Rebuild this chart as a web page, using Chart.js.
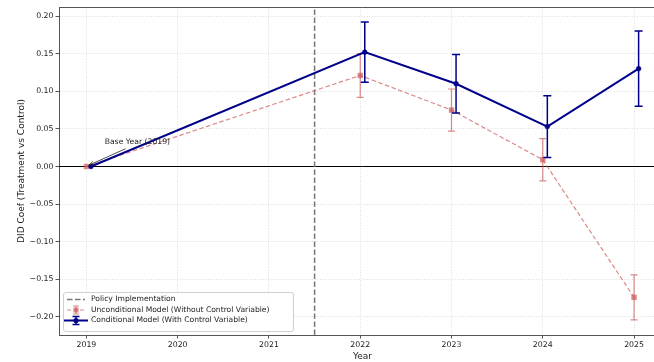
<!DOCTYPE html>
<html>
<head>
<meta charset="utf-8">
<script src="https://cdn.jsdelivr.net/npm/chart.js@4.4.1/dist/chart.umd.min.js"></script>
<style>
  body { margin: 0; background: #fff; }
  #wrap { width: 654px; height: 362px; overflow: hidden; }
  #box { width: 672px; height: 362px; }
</style>
</head>
<body>
<div id="wrap"><div id="box"><canvas id="chart"></canvas></div></div>
<script>
// data
const years = [2019, 2022, 2023, 2024, 2025];
const uncondCoef = [0, 0.121, 0.075, 0.009, -0.174];
const uncondErr = [0, 0.029, 0.028, 0.028, 0.030];
const condCoef = [0, 0.152, 0.110, 0.053, 0.130];
const condErr = [0, 0.040, 0.039, 0.041, 0.050];
const condShift = 0.05;          // conditional points are nudged right a little
const policyYear = 2021.5;
const xTicks = [2019, 2020, 2021, 2022, 2023, 2024, 2025];
const yTicks = [-0.20, -0.15, -0.10, -0.05, 0.00, 0.05, 0.10, 0.15, 0.20];
const xMin = 2018.70, xMax = 2025.35;
const yMin = -0.224, yMax = 0.212;

const RED = 'rgba(205,92,92,0.72)';
const BLUE = '#00008b';
const FONT = 'DejaVu Sans';

const condPts = years.map((yr, i) => ({x: yr + condShift, y: condCoef[i]}));
const uncondPts = years.map((yr, i) => ({x: yr, y: uncondCoef[i]}));

function drawErrBar(ctx, x, yt, yb, cap) {
  ctx.beginPath();
  ctx.moveTo(x, yt); ctx.lineTo(x, yb);
  ctx.moveTo(x - cap, yt); ctx.lineTo(x + cap, yt);
  ctx.moveTo(x - cap, yb); ctx.lineTo(x + cap, yb);
  ctx.stroke();
}

const extras = {
  id: 'extras',
  beforeDatasetsDraw(chart) {
    const {ctx, chartArea: a, scales: {y}} = chart;
    const y0 = Math.round(y.getPixelForValue(0)) + 0.5;
    ctx.save();
    ctx.strokeStyle = '#000';
    ctx.lineWidth = 1;
    ctx.beginPath(); ctx.moveTo(a.left, y0); ctx.lineTo(a.right, y0); ctx.stroke();
    ctx.restore();
  },
  afterDatasetDraw(chart, args) {
    const ds = chart.data.datasets[args.index];
    if (!ds.err) return;
    const {ctx, scales: {y}} = chart;
    ctx.save();
    ctx.strokeStyle = ds.borderColor;
    ctx.lineWidth = ds.errWidth;
    args.meta.data.forEach((pt, i) => {
      const e = ds.err[i];
      if (!e) return;
      const v = ds.data[i].y;
      drawErrBar(ctx, pt.x, y.getPixelForValue(v + e), y.getPixelForValue(v - e), ds.cap);
    });
    ctx.restore();
  },
  afterDraw(chart) {
    const {ctx, chartArea: a, scales: {x, y}} = chart;
    ctx.save();
    // top spine
    ctx.strokeStyle = '#555';
    ctx.lineWidth = 1;
    ctx.beginPath(); ctx.moveTo(a.left, a.top + 0.5); ctx.lineTo(a.right, a.top + 0.5); ctx.stroke();

    // annotation
    const px = x.getPixelForValue(years[0]), py = y.getPixelForValue(0);
    const tx = x.getPixelForValue(2019.2), ty = y.getPixelForValue(0.033);
    ctx.fillStyle = '#222';
    ctx.font = '7.7px "' + FONT + '"';
    ctx.textBaseline = 'middle';
    ctx.textAlign = 'left';
    ctx.fillText('Base Year (2019)', tx, ty);
    const sx = tx + 21, sy = ty + 7;
    ctx.strokeStyle = '#222';
    ctx.lineWidth = 0.8;
    ctx.beginPath(); ctx.moveTo(sx, sy); ctx.lineTo(px + 3, py - 1.5); ctx.stroke();
    const ang = Math.atan2(py - 1.5 - sy, px + 3 - sx);
    ctx.beginPath();
    ctx.moveTo(px + 3, py - 1.5);
    ctx.lineTo(px + 3 - 5 * Math.cos(ang - 0.4), py - 1.5 - 5 * Math.sin(ang - 0.4));
    ctx.moveTo(px + 3, py - 1.5);
    ctx.lineTo(px + 3 - 5 * Math.cos(ang + 0.4), py - 1.5 - 5 * Math.sin(ang + 0.4));
    ctx.stroke();

    // legend box, lower left
    const lx = a.left + 4, lyTop = a.bottom - 43, lw = 230, lh = 39;
    ctx.fillStyle = 'rgba(255,255,255,0.85)';
    ctx.strokeStyle = '#d0d0d0';
    ctx.lineWidth = 1;
    ctx.beginPath();
    ctx.roundRect(lx + 0.5, lyTop + 0.5, lw, lh, 2.5);
    ctx.fill(); ctx.stroke();
    const rows = [lyTop + 7.5, lyTop + 18, lyTop + 28.5];
    const hx0 = lx + 4, hx1 = lx + 22, hc = (hx0 + hx1) / 2;
    // policy line
    ctx.strokeStyle = '#777';
    ctx.lineWidth = 1.5;
    ctx.setLineDash([5.5, 2.5]);
    ctx.beginPath(); ctx.moveTo(hx0, rows[0]); ctx.lineTo(hx1, rows[0]); ctx.stroke();
    // unconditional
    ctx.strokeStyle = RED;
    ctx.lineWidth = 1.2;
    ctx.setLineDash([4, 2.5]);
    ctx.beginPath(); ctx.moveTo(hx0, rows[1]); ctx.lineTo(hx1, rows[1]); ctx.stroke();
    ctx.setLineDash([]);
    drawErrBar(ctx, hc, rows[1] - 4, rows[1] + 4, 3);
    ctx.fillStyle = RED;
    ctx.fillRect(hc - 2.5, rows[1] - 2.5, 5, 5);
    // conditional
    ctx.strokeStyle = BLUE;
    ctx.lineWidth = 2;
    ctx.beginPath(); ctx.moveTo(hx0 - 3, rows[2]); ctx.lineTo(hx1 + 3, rows[2]); ctx.stroke();
    ctx.lineWidth = 1.5;
    drawErrBar(ctx, hc, rows[2] - 4, rows[2] + 4, 3.5);
    ctx.fillStyle = BLUE;
    ctx.beginPath(); ctx.arc(hc, rows[2], 2.6, 0, Math.PI * 2); ctx.fill();

    ctx.fillStyle = '#222';
    ctx.font = '7.6px "' + FONT + '"';
    ctx.fillText('Policy Implementation', lx + 28, rows[0]);
    ctx.fillText('Unconditional Model (Without Control Variable)', lx + 28, rows[1]);
    ctx.fillText('Conditional Model (With Control Variable)', lx + 28, rows[2]);
    ctx.restore();
  }
};

const gridOpts = {color: 'rgba(200,200,200,0.75)', lineWidth: 0.8, drawTicks: true, tickLength: 3.5, tickColor: '#555', tickWidth: 1};

new Chart(document.getElementById('chart'), {
  type: 'scatter',
  data: {
    datasets: [
      {
        label: 'Conditional Model (With Control Variable)',
        data: condPts,
        err: condErr, errWidth: 1.5, cap: 4,
        showLine: true,
        borderColor: BLUE,
        backgroundColor: BLUE,
        borderWidth: 2,
        pointRadius: 2.4,
        pointBorderWidth: 0.5,
        pointStyle: 'circle',
        order: 0
      },
      {
        label: 'Unconditional Model (Without Control Variable)',
        data: uncondPts,
        err: uncondErr, errWidth: 1.2, cap: 3.5,
        showLine: true,
        borderColor: RED,
        backgroundColor: RED,
        borderWidth: 1.2,
        borderDash: [4.5, 2.5],
        pointRadius: 3.8,
        pointBorderWidth: 0,
        pointStyle: 'rect',
        order: 1
      },
      {
        label: 'Policy Implementation',
        data: [{x: policyYear, y: yMin}, {x: policyYear, y: yMax}],
        showLine: true,
        borderColor: '#777',
        borderWidth: 1.5,
        borderDash: [5.5, 2.5],
        pointRadius: 0,
        order: 2
      }
    ]
  },
  options: {
    responsive: true,
    maintainAspectRatio: false,
    animation: false,
    devicePixelRatio: 1,
    layout: {padding: {left: 0, top: 7, right: 6, bottom: 0}},
    plugins: {legend: {display: false}, tooltip: {enabled: false}},
    scales: {
      x: {
        type: 'linear',
        min: xMin, max: xMax,
        afterBuildTicks: axis => { axis.ticks = xTicks.map(v => ({value: v})); },
        afterFit: axis => { axis.height = 27; },
        ticks: {
          callback: v => String(v),
          font: {family: FONT, size: 7.8},
          color: '#222',
          padding: 2,
          maxRotation: 0
        },
        grid: gridOpts,
        border: {display: true, color: '#555', width: 1, dash: [1, 1.6]},
        title: {display: true, text: 'Year', font: {family: FONT, size: 9}, color: '#222', padding: {top: 0, bottom: 0}}
      },
      y: {
        min: yMin, max: yMax,
        afterBuildTicks: axis => { axis.ticks = yTicks.map(v => ({value: v})); },
        afterFit: axis => { axis.width = 59; },
        ticks: {
          callback: v => v.toFixed(2).replace('-', '\u2212'),
          font: {family: FONT, size: 7.8},
          color: '#222',
          padding: 2
        },
        grid: gridOpts,
        border: {display: true, color: '#555', width: 1, dash: [1, 1.6]},
        title: {display: true, text: 'DID Coef (Treatment vs Control)', font: {family: FONT, size: 9}, color: '#222', padding: {top: 16, bottom: 0}}
      }
    }
  },
  plugins: [extras]
});
</script>
</body>
</html>
